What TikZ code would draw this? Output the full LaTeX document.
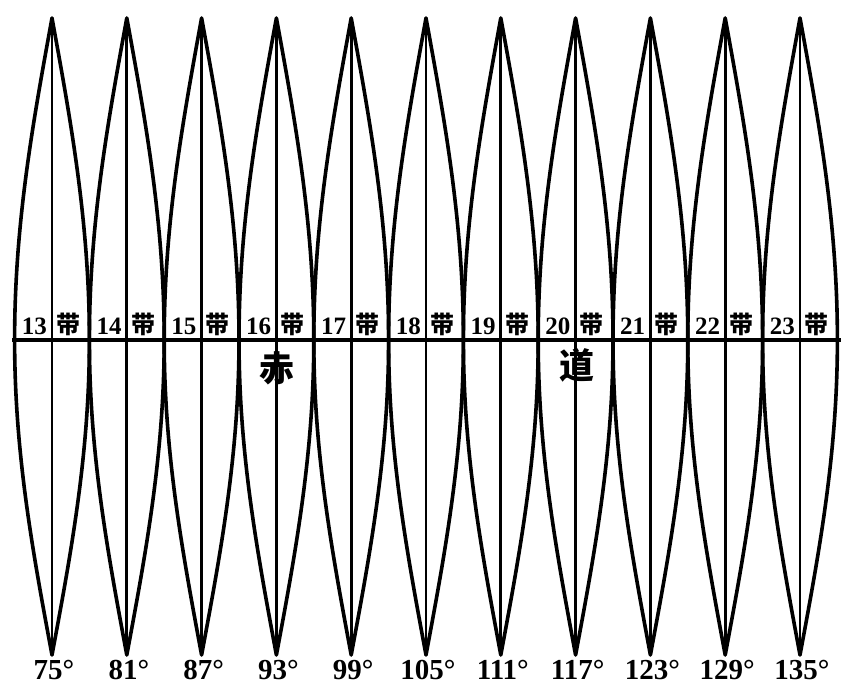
\documentclass[tikz,border=0pt]{standalone}
\usepackage{fontspec}
\setmainfont{Liberation Serif}
\newfontfamily\cjk{Noto Sans CJK SC}
\usepackage{tikz}

\begin{document}
\begin{tikzpicture}[
    x=1pt, y=-1pt,
    lens/.style={line width=3.6pt, line join=round},
    meridian/.style={line width=2.8pt},
    equator/.style={line width=3.2pt},
    zonenum/.style={font=\bfseries\fontsize{25}{25}\selectfont, inner sep=0pt, anchor=base east},
    zonechar/.style={font=\cjk\bfseries\fontsize{24}{24}\selectfont, inner sep=0pt, anchor=base west},
    degree/.style={font=\bfseries\fontsize{29}{29}\selectfont, inner sep=0pt, anchor=north},
    bigchar/.style={font=\cjk\bfseries\fontsize{35}{35}\selectfont, inner sep=0pt}
]
\useasboundingbox (0,0) rectangle (841,690);

% Equator
\coordinate (eqW) at (12,340);
\coordinate (eqE) at (841,340);
\draw[equator] (eqW) -- (eqE);

% Zones: lens outline, central meridian and labels
\foreach \i/\lon in {0/75, 1/81, 2/87, 3/93, 4/99, 5/105, 6/111, 7/117, 8/123, 9/129, 10/135} {
    \pgfmathsetmacro\cx{52+74.8*\i}
    \pgfmathtruncatemacro\z{13+\i}
    \coordinate (n\z) at (\cx,18);
    \coordinate (s\z) at (\cx,655);
    \draw[meridian] (n\z) -- (s\z);
    \draw[lens] plot[domain=0:90, samples=37] ({\cx-37.4*cos(\x)}, {340-3.578*\x})
        -- plot[domain=90:0, samples=37] ({\cx+37.4*cos(\x)}, {340-3.578*\x})
        -- plot[domain=0:90, samples=37] ({\cx+37.4*cos(\x)}, {340+3.5*\x})
        -- plot[domain=90:0, samples=37] ({\cx-37.4*cos(\x)}, {340+3.5*\x}) -- cycle;
    \node[zonenum] (num\z) at (\cx-5,334) {\z};
    \node[zonechar] (dai\z) at (\cx+4,333) {带};
    \node[degree] (lon\z) at (\cx+2,660) {\lon°};
}

% Equator name
\node[bigchar] (chi) at (277,368) {赤};
\node[bigchar] (dao) at (577,365) {道};
\end{tikzpicture}
\end{document}
